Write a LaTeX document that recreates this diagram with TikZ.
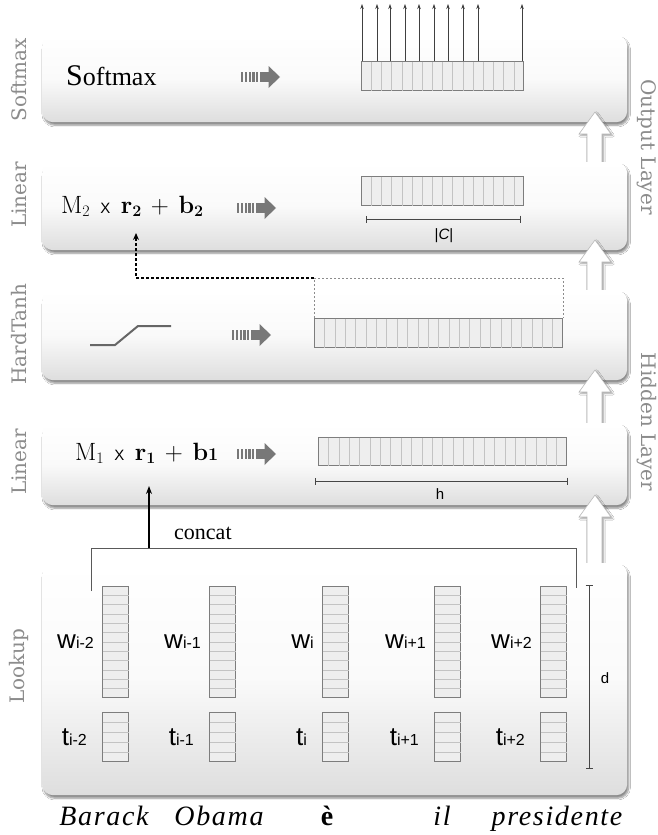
\documentclass[tikz,border=0pt]{standalone}
\usepackage{fontspec}
\usetikzlibrary{calc,shadows.blur,arrows.meta}
\newfontfamily\lblfont{DejaVu Serif}
\newfontfamily\wordfont[LetterSpace=6]{Liberation Serif}
\newfontfamily\tnr{Liberation Serif}
\newfontfamily\sansf{Liberation Sans}
\definecolor{lblgray}{RGB}{140,140,140}
\definecolor{boxborder}{RGB}{125,125,125}
\definecolor{boxfill}{RGB}{238,238,238}
\definecolor{cellc}{RGB}{195,195,195}
\definecolor{arrowgray}{RGB}{120,120,120}
\definecolor{dimc}{RGB}{70,70,70}
\newcommand{\vcells}[3]{\foreach \k in {1,...,#3}{\draw[cell] ($(#1.north west)!\k/#2!(#1.north east)$) -- ($(#1.south west)!\k/#2!(#1.south east)$);}}
\newcommand{\hcells}[3]{\foreach \k in {1,...,#3}{\draw[cell] ($(#1.north west)!\k/#2!(#1.south west)$) -- ($(#1.north east)!\k/#2!(#1.south east)$);}}
\newcommand{\bigarrow}[2]{\draw[bigup] (587,#2) -- (587,#1+12) -- (579,#1+12) -- (595,#1-10) -- (611,#1+12) -- (602,#1+12) -- (602,#2);}
\tikzset{
 panel/.style={draw=none, rounded corners=11pt, inner sep=0pt, anchor=north west,
   top color=white, bottom color=black!13, middle color=black!2,
   blur shadow={shadow xshift=1.5pt, shadow yshift=-3pt, shadow blur steps=8, shadow opacity=45}},
 vec/.style={draw=boxborder, line width=1pt, fill=boxfill, inner sep=0pt, anchor=north west},
 cell/.style={draw=cellc, line width=0.5pt, shorten <=0.5pt, shorten >=0.5pt},
 sidelbl/.style={font=\lblfont\fontsize{20}{20}\selectfont, text=lblgray, inner sep=0pt},
 bigup/.style={fill=white, draw=black!28, line width=0.6pt,
   blur shadow={shadow xshift=1.5pt, shadow yshift=-1.5pt, shadow opacity=40}},
 dimline/.style={draw=dimc, line width=1pt, {Bar[width=7pt]}-{Bar[width=7pt]}},
 wlbl/.style={anchor=base east, inner sep=0pt, font=\sansf\fontsize{26}{26}\selectfont},
 word/.style={anchor=base, inner sep=0pt, font=\wordfont\itshape\fontsize{28}{28}\selectfont},
 outarrow/.style={draw=black!75, line width=0.7pt, -{Stealth[length=5pt,width=3.5pt]}},
 hatcharrow/.pic={
   \foreach \i in {0,1,2,3,4} \fill[arrowgray] (\i*3.8,-5) rectangle ++(2.1,10);
   \fill[arrowgray] (19,-5) rectangle (28,5);
   \fill[arrowgray] (27.5,-11) -- (39,0) -- (27.5,11) -- cycle;
 },
}
\begin{document}
\begin{tikzpicture}[x=1pt,y=-1pt]
\fill[white] (0,0) rectangle (657,835);
\useasboundingbox (0,0) rectangle (657,835);

% panels and big arrows
\node[panel, minimum width=585pt, minimum height=87pt] (psoft) at (42,35) {};
\bigarrow{122}{162}
\node[panel, minimum width=585pt, minimum height=88pt] (plin2) at (42,162) {};
\bigarrow{250}{290}
\node[panel, minimum width=585pt, minimum height=90pt] (phard) at (42,290) {};
\bigarrow{380}{423}
\node[panel, minimum width=585pt, minimum height=82pt] (plin1) at (42,423) {};
\bigarrow{505}{563}
\node[panel, minimum width=585pt, minimum height=232pt] (plook) at (42,563) {};

% side labels
\node[sidelbl, rotate=90] (lsoft) at (19,80) {Softmax};
\node[sidelbl, rotate=90] (llin2) at (19,195) {Linear};
\node[sidelbl, rotate=90] (lhard) at (19,334) {HardTanh};
\node[sidelbl, rotate=90] (llin1) at (19,462) {Linear};
\node[sidelbl, rotate=90] (llook) at (19,666) {Lookup};
\node[sidelbl, rotate=-90] (lout) at (647,147) {Output Layer};
\node[sidelbl, rotate=-90] (lhid) at (647,422) {Hidden Layer};

% Softmax layer
\node[anchor=base west, inner sep=0pt, font=\tnr\fontsize{26}{26}\selectfont] (tsoft) at (66,85) {{\fontsize{30}{30}\selectfont S}oftmax};
\pic at (241,77) {hatcharrow};
\node[vec, minimum width=162pt, minimum height=29pt] (vsoft) at (361,61) {};
\vcells{vsoft}{16}{15}
\foreach \xx in {1,16,29,44,58,73,87,102,117,161}{
  \coordinate (o\xx) at ($(vsoft.north west)+(\xx,0)$);
  \coordinate (e\xx) at ($(vsoft.north west)+(\xx,-57)$);
  \draw[outarrow] (o\xx) -- (e\xx);
}

% Linear 2
\node[anchor=base west, inner sep=0pt, font=\fontsize{25}{25}\selectfont] (f2) at (61,213)
 {M\raisebox{-3pt}{\fontsize{16}{16}\selectfont 2}\hspace{3pt} {\sansf\fontsize{15}{15}\selectfont X}\hspace{3pt} \textbf{r\raisebox{-3pt}{\fontsize{16}{16}\selectfont 2}}\hspace{2pt} + \hspace{2pt}\textbf{b\raisebox{-3pt}{\fontsize{16}{16}\selectfont 2}}};
\pic at (237,208) {hatcharrow};
\node[vec, minimum width=162pt, minimum height=29pt] (vlin2) at (361,176) {};
\vcells{vlin2}{16}{15}
\coordinate (c2a) at (366,219);
\coordinate (c2b) at (521,219);
\draw[dimline] (c2a) -- (c2b);
\node[font=\sansf\fontsize{15}{15}\selectfont, inner sep=0pt] (tC) at (444,236) {|\textit{C}|};

% HardTanh
\draw[line width=2pt, black!60] (90,345) -- (115,345) -- (138,326) -- (171,326);
\pic at (232,335) {hatcharrow};
\node[vec, minimum width=248pt, minimum height=29pt] (vhard) at (314,318) {};
\vcells{vhard}{24}{23}
\coordinate (dL) at ($(vhard.north west)+(0,-40)$);
\coordinate (dR) at ($(vhard.north east)+(0,-40)$);
\coordinate (dA) at (136,278);
\coordinate (dB) at (136,233);
\draw[black!45, line width=1pt, dash pattern=on 2pt off 2pt] (vhard.north west) -- (dL) -- (dR) -- (vhard.north east);
\draw[black, line width=1.3pt, dash pattern=on 3pt off 2pt, -{Stealth[length=7pt,width=6pt]}] (dL) -- (dA) -- (dB);

% Linear 1
\node[anchor=base west, inner sep=0pt, font=\fontsize{25}{25}\selectfont] (f1) at (75,460)
 {M\raisebox{-3pt}{\fontsize{16}{16}\selectfont 1}\hspace{3pt} {\sansf\fontsize{15}{15}\selectfont X}\hspace{3pt} \textbf{r\raisebox{-3pt}{\fontsize{16}{16}\selectfont 1}}\hspace{2pt} + \hspace{2pt}\textbf{b{\fontsize{18}{18}\selectfont 1}}};
\pic at (237,454) {hatcharrow};
\node[vec, minimum width=248pt, minimum height=28pt] (vlin1) at (318,437) {};
\vcells{vlin1}{24}{23}
\coordinate (c1a) at (315,481);
\coordinate (c1b) at (568,481);
\draw[dimline] (c1a) -- (c1b);
\node[font=\sansf\fontsize{15}{15}\selectfont, inner sep=0pt] (th) at (440,494) {h};

% concat
\coordinate (cl) at (91,548);
\coordinate (cr) at (576,548);
\coordinate (clb) at (91,591);
\coordinate (crb) at (576,588);
\coordinate (cm) at (149,548);
\coordinate (cmt) at (149,486);
\draw[black!65, line width=1pt] (clb) -- (cl) -- (cr) -- (crb);
\draw[black, line width=1.2pt, -{Stealth[length=8pt,width=6pt]}] (cm) -- (cmt);
\node[anchor=base west, inner sep=0pt, font=\tnr\fontsize{22}{22}\selectfont] (tconcat) at (174,539) {concat};

% Lookup
\foreach \n/\xx/\sub in {1/102/i-2, 2/209/i-1, 3/322/i, 4/434/i+1, 5/540/i+2}{
  \node[vec, minimum width=26pt, minimum height=111pt] (bw\n) at (\xx,586) {};
  \hcells{bw\n}{12}{11}
  \node[vec, minimum width=26pt, minimum height=49pt] (bt\n) at (\xx,712) {};
  \hcells{bt\n}{5}{4}
  \node[wlbl] (lw\n) at ($(bw\n.north west)+(-8,62)$) {w{\fontsize{16}{16}\selectfont\sub}};
  \node[wlbl] (lt\n) at ($(bt\n.north west)+(-15,33)$) {t{\fontsize{16}{16}\selectfont\sub}};
}
\coordinate (dt) at (589,585);
\coordinate (db) at (589,769);
\draw[dimline] (dt) -- (db);
\node[font=\sansf\fontsize{15}{15}\selectfont, inner sep=0pt] (td) at (605,678) {d};

% words
\node[word] (w1) at (104,825) {Barack};
\node[word] (w2) at (219,825) {Obama};
\node[word, font=\tnr\bfseries\fontsize{28}{28}\selectfont] (w3) at (327,825) {è};
\node[word] (w4) at (442,825) {il};
\node[word] (w5) at (557,825) {presidente};
\end{tikzpicture}
\end{document}
